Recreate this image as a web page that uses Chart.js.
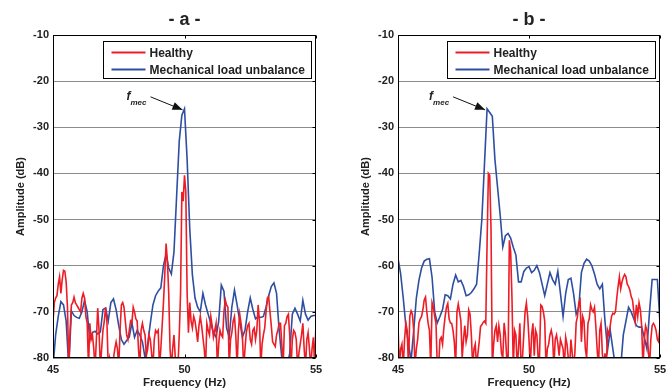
<!DOCTYPE html>
<html>
<head>
<meta charset="utf-8">
<script src="https://cdn.jsdelivr.net/npm/chart.js@4.4.0/dist/chart.umd.min.js"></script>
<style>
  body { margin: 0; background: #fff; }
  #wrap { position: relative; width: 672px; height: 392px; }
  canvas { position: absolute; top: 0; }
</style>
</head>
<body>
<div id="wrap">
  <canvas id="chartA" width="336" height="392" style="left:0"></canvas>
  <canvas id="chartB" width="336" height="392" style="left:336px"></canvas>
</div>
<script>
// frequency grids (Hz): unbalance spectrum every 0.1 Hz, healthy every 0.05 Hz
const freqStart = 45;
const blueStep = 0.1;
const redStep = 0.05;
const xTicks = [45, 50, 55];
const yTicks = [-80, -70, -60, -50, -40, -30, -20, -10];

const seriesNames = ["Healthy", "Mechanical load unbalance"];

// - a - healthy (dB)
const healthyA = [
  -72, -68, -67, -66.5, -64, -62.4, -66, -63, -61, -61.2,
  -63.5, -69, -82, -74, -68.5, -68, -66.8, -68, -68.5, -69,
  -69.5, -70, -67, -66, -67, -71, -72.4, -82, -72.5, -76,
  -75, -78, -82, -76, -69.2, -74, -82, -78, -74, -72,
  -69, -72, -82, -80, -82, -82, -80, -78, -76.5, -78,
  -82, -74, -68.5, -68, -69, -72, -75, -76, -74, -72,
  -72.4, -69, -70, -71.5, -72, -78, -82, -74, -72.5, -74,
  -75, -79.5, -78, -75, -76, -79, -82, -76, -74, -74.5,
  -74, -82, -78, -73, -68, -62, -55.2, -59, -66, -78,
  -82, -78, -75, -80, -82, -82, -75, -66, -44, -46,
  -40.4, -44, -66, -74.5, -68, -72, -73.5, -71, -72, -74,
  -76.5, -73, -71, -73, -75.5, -78, -82, -72.5, -74, -75,
  -71, -73, -75.5, -74, -72.5, -82, -77, -74, -75, -75.5,
  -70, -67.4, -68.5, -69, -82, -76, -74.5, -72, -71, -75,
  -82, -74, -70.5, -72.5, -75, -82, -78, -74.5, -73, -72.5,
  -76, -77, -74, -73.5, -76, -74, -68.5, -72, -82, -77,
  -75, -73.5, -70, -67, -66.7, -70, -73, -76.5, -77, -77.5,
  -75, -74, -72.5, -72.5, -77, -82, -73, -72.5, -71, -70.5,
  -75, -82, -76, -74, -74.5, -76, -82, -79, -77, -75,
  -72.5, -78, -82, -76, -74.5, -78, -82, -78, -75.5, -82,
  -72
];

// - a - mechanical load unbalance (dB)
const unbalanceA = [
  -82, -75, -71, -67.8, -68.5, -72, -82, -69.8, -70.8, -71.2,
  -71.4, -70, -67.5, -70, -76, -74.5, -74.2, -74.8, -74.4, -69.5,
  -69.2, -72, -68, -67.2, -69.5, -73, -76, -77, -76.2, -75.5,
  -72.4, -75.5, -74, -75, -76.5, -80, -77, -72.5, -68.5, -66.5,
  -65.5, -64.8, -60, -57.5, -60.5, -61.8, -57, -45, -33, -27.4,
  -26, -37, -52, -62, -67, -69, -70, -66, -68.5, -70.5,
  -72.5, -74.5, -75.5, -72, -64.2, -65.5, -73.5, -75.5, -69, -65.3,
  -68.5, -72, -75.5, -74, -70, -67, -69.5, -71.5, -71, -71.2,
  -71, -69, -66.5, -64.5, -63.7, -66, -74, -80, -82, -82,
  -79, -70.5, -69.2, -70.5, -72, -67.5, -70.5, -71.8, -71, -70.8,
  -70.8
];

// - b - healthy (dB)
const healthyB = [
  -73, -82, -78, -77, -82, -76, -72.4, -74, -82, -71,
  -69.8, -70.5, -74, -82, -78, -76, -72.4, -71.5, -71, -69.5,
  -67.4, -66.8, -70, -72.5, -74, -82, -68, -69, -71, -72.5,
  -82, -82, -76, -75.5, -77, -73.5, -71, -69, -68.2, -71.5,
  -72.4, -72.5, -74, -76.5, -82, -70, -68.3, -70, -72, -80,
  -76, -73, -76.5, -75, -69.6, -70.5, -75, -82, -78, -77,
  -82, -79, -76.5, -73.2, -72.8, -72.3, -72, -72.5, -55, -40,
  -40.4, -52, -82, -77, -74, -73, -76.5, -73, -75, -79,
  -80, -72.4, -75, -80, -82, -54.5, -57, -67, -82, -74,
  -75, -82, -78, -72.5, -82, -80, -75, -70, -68.1, -71,
  -76, -82, -75, -72.5, -79.5, -74, -75, -80, -80, -68.5,
  -68.8, -70, -72, -82, -78, -77, -75, -74, -75.5, -82,
  -76, -75, -76.8, -79.5, -76, -77, -78, -82, -75.5, -77,
  -80, -82, -76, -79, -82, -79, -72.4, -71, -68, -67.4,
  -76.5, -71, -72, -78, -80, -72.5, -71.5, -68.5, -69.5, -70,
  -69, -73, -78, -82, -74, -72.5, -79, -82, -79, -82,
  -74, -75, -73, -71, -70.3, -70.5, -70, -67, -64.5, -62.4,
  -65, -63.5, -62.5, -61.9, -62.4, -64, -64.5, -65.3, -66.7, -67.4,
  -70, -72, -68.5, -71, -68, -69.5, -73, -82, -76, -73,
  -74, -78, -82, -76, -73, -72.5, -73, -74, -76, -76.5,
  -73
];

// - b - mechanical load unbalance (dB)
const unbalanceB = [
  -58.4, -61.7, -67, -73, -77, -80.5, -74, -67, -63.1, -60.5,
  -59, -58.6, -58.5, -62.5, -70, -72.4, -71, -69.5, -66.3, -66.5,
  -67.2, -64, -62, -63.5, -63.2, -64.5, -66.5, -66.3, -65.8, -65,
  -64, -57.3, -50, -38, -26, -26.8, -27.6, -37, -43, -49,
  -55.9, -53.5, -53, -54, -56, -57.7, -63.5, -63.5, -61.3, -60.5,
  -60.2, -61.5, -61, -60, -61.5, -64, -66.5, -64, -61.5, -63,
  -64, -61.2, -66, -71, -66, -63, -62.7, -66, -70.5, -69,
  -61.5, -59.5, -58.6, -59, -60, -61.8, -64, -65, -64, -72,
  -78.2, -74, -78, -82, -82, -82, -75, -72, -69, -70,
  -71.5, -73, -73.3, -73.3, -75.5, -78, -70, -63, -63, -63,
  -72.5
];

// f_mec peak marker (Hz, dB)
const peakA = { f: 50, db: -26 };
const peakB = { f: 48.4, db: -26 };

const RED = "#ee1c25";
const BLUE = "#2e4ea2";
const FONT = "'Liberation Sans', Arial, sans-serif";
Chart.defaults.font.family = FONT;
Chart.defaults.color = "#222";

function toPoints(values, step) {
  return values.map((v, i) => ({ x: +(freqStart + i * step).toFixed(2), y: v }));
}

const framePlugin = {
  id: "frame",
  afterDraw(chart, args, opts) {
    const { ctx, chartArea: a, scales: { x, y } } = chart;
    ctx.save();

    // panel title
    ctx.font = "bold 18px " + FONT;
    ctx.fillStyle = "#222";
    ctx.textAlign = "center";
    ctx.textBaseline = "alphabetic";
    ctx.fillText(opts.title, (a.left + a.right) / 2, 25);

    // box + inward ticks
    const L = Math.round(a.left) + 0.5, T = Math.round(a.top) + 0.5;
    const R = Math.round(a.right) - 0.5, B = Math.round(a.bottom) - 0.5;
    ctx.strokeStyle = "#000";
    ctx.lineWidth = 1;
    ctx.strokeRect(L, T, R - L, B - T);
    ctx.beginPath();
    xTicks.forEach(t => {
      const px = Math.round(x.getPixelForValue(t)) + 0.5;
      ctx.moveTo(px, B); ctx.lineTo(px, B - 3);
      ctx.moveTo(px, T); ctx.lineTo(px, T + 3);
    });
    yTicks.forEach(t => {
      const py = Math.round(y.getPixelForValue(t)) + 0.5;
      ctx.moveTo(R, py); ctx.lineTo(R - 3, py);
    });
    ctx.stroke();

    // legend
    const bw = 208, bh = 37;
    const bx = Math.round(a.right) - 5 - bw + 0.5, by = Math.round(a.top) + 6 + 0.5;
    ctx.fillStyle = "#fff";
    ctx.fillRect(bx, by, bw, bh);
    ctx.strokeStyle = "#000";
    ctx.strokeRect(bx, by, bw, bh);
    ctx.font = "bold 12px " + FONT;
    ctx.textAlign = "left";
    ctx.textBaseline = "middle";
    chart.data.datasets.forEach((ds, i) => {
      const ry = by + 11 + i * 17;
      ctx.strokeStyle = ds.borderColor;
      ctx.lineWidth = 2;
      ctx.beginPath();
      ctx.moveTo(bx + 8, ry); ctx.lineTo(bx + 42, ry);
      ctx.stroke();
      ctx.fillStyle = "#222";
      ctx.fillText(ds.label, bx + 46, ry + 1);
    });

    // f_mec annotation with arrow
    const p = opts.peak;
    const tx = x.getPixelForValue(p.f) - 2, ty = y.getPixelForValue(p.db) + 1;
    const sx = tx - 32, sy = ty - 13;
    ctx.strokeStyle = "#111";
    ctx.fillStyle = "#111";
    ctx.lineWidth = 1;
    ctx.beginPath();
    ctx.moveTo(sx, sy); ctx.lineTo(tx, ty);
    ctx.stroke();
    const ang = Math.atan2(ty - sy, tx - sx);
    ctx.beginPath();
    ctx.moveTo(tx, ty);
    ctx.lineTo(tx - 10 * Math.cos(ang) + 4 * Math.sin(ang), ty - 10 * Math.sin(ang) - 4 * Math.cos(ang));
    ctx.lineTo(tx - 10 * Math.cos(ang) - 4 * Math.sin(ang), ty - 10 * Math.sin(ang) + 4 * Math.cos(ang));
    ctx.closePath();
    ctx.fill();
    ctx.fillStyle = "#222";
    ctx.textBaseline = "alphabetic";
    ctx.font = "italic bold 12px " + FONT;
    ctx.fillText("f", sx - 24, sy + 3);
    ctx.font = "italic bold 8px " + FONT;
    ctx.fillText("mec", sx - 20, sy + 8);

    ctx.restore();
  }
};

function makeChart(id, healthy, unbalance, title, peak, padLeft, padRight) {
  return new Chart(document.getElementById(id), {
    type: "line",
    data: {
      datasets: [
        {
          label: seriesNames[0],
          data: toPoints(healthy, redStep),
          borderColor: RED,
          borderWidth: 1.6,
          pointRadius: 0,
          tension: 0
        },
        {
          label: seriesNames[1],
          data: toPoints(unbalance, blueStep),
          borderColor: BLUE,
          borderWidth: 1.6,
          pointRadius: 0,
          tension: 0
        }
      ]
    },
    options: {
      responsive: false,
      animation: false,
      layout: { padding: { left: padLeft, right: padRight, top: 35, bottom: 0 } },
      plugins: {
        legend: { display: false },
        tooltip: { enabled: false },
        frame: { title: title, peak: peak }
      },
      scales: {
        x: {
          type: "linear",
          min: 45,
          max: 55,
          afterFit: s => { s.height = 34; },
          afterBuildTicks: s => { s.ticks = xTicks.map(v => ({ value: v })); },
          grid: { display: false, drawTicks: false },
          border: { display: false },
          ticks: { font: { size: 11, weight: "bold" }, padding: 5, color: "#222" },
          title: {
            display: true,
            text: "Frequency (Hz)",
            font: { size: 11.5, weight: "bold" },
            color: "#222",
            padding: { top: 0, bottom: 2 }
          }
        },
        y: {
          min: -80,
          max: -10,
          afterFit: s => { s.width = 53; },
          afterBuildTicks: s => { s.ticks = yTicks.map(v => ({ value: v })); },
          grid: { color: "#8c8c8c", lineWidth: 1, drawTicks: false },
          border: { display: false },
          ticks: { font: { size: 11, weight: "bold" }, padding: 4, color: "#222" },
          title: {
            display: true,
            text: "Amplitude (dB)",
            font: { size: 11, weight: "bold" },
            color: "#222",
            padding: { top: 14, bottom: 0 }
          }
        }
      }
    },
    plugins: [framePlugin]
  });
}

makeChart("chartA", healthyA, unbalanceA, "- a -", peakA, 0, 20);
makeChart("chartB", healthyB, unbalanceB, "- b -", peakB, 9, 12);
</script>
</body>
</html>
